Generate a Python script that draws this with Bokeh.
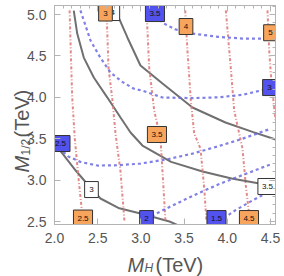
import math
from bokeh.plotting import figure
from bokeh.models import (Range1d, LinearAxis, Label, FixedTicker,
                          ColumnDataSource, NumeralTickFormatter)
from bokeh.core.properties import value
from bokeh.embed import file_html
from bokeh.resources import INLINE

# ---- data ----
# gray solid contours (labels 3, 3.5, 4)
gray_levels = ["3", "3.5", "4"]
gray_x = [
    [2.0, 2.093, 2.25, 2.394, 2.532, 2.75, 2.995, 3.331, 3.42],
    [2.223, 2.263, 2.339, 2.455, 2.61, 2.764, 2.88, 3.018, 3.35, 3.713, 4.05, 4.373, 4.56],
    [2.706, 2.845, 2.995, 3.25, 3.597, 3.979, 4.3, 4.56],
]
gray_y = [
    [3.44, 3.32, 3.11, 2.935, 2.778, 2.66, 2.597, 2.5, 2.46],
    [5.048, 4.77, 4.48, 4.24, 4.0, 3.756, 3.575, 3.418, 3.22, 3.104, 3.02, 2.959, 2.92],
    [5.05, 4.72, 4.384, 4.167, 3.877, 3.696, 3.58, 3.49],
]

# red dash-dot contours (labels 2.5 .. 5)
red_levels = ["2.5", "3", "3.5", "4", "4.5", "5"]
red_x = [
    [2.175, 2.19, 2.205, 2.235, 2.28, 2.33],
    [2.602, 2.625, 2.671, 2.706, 2.764, 2.81],
    [3.065, 3.096, 3.154, 3.227, 3.25, 3.285],
    [3.513, 3.539, 3.578, 3.617, 3.69, 3.733, 3.759],
    [3.983, 4.04, 4.08, 4.176, 4.214, 4.245, 4.265],
    [4.465, 4.485, 4.51, 4.55, 4.6],
]
red_y = [
    [5.05, 4.5, 4.0, 3.5, 3.0, 2.5],
    [5.05, 4.36, 3.96, 3.563, 3.104, 2.5],
    [5.05, 4.36, 3.84, 3.5, 3.104, 2.5],
    [5.05, 4.565, 3.96, 3.563, 3.38, 2.9, 2.5],
    [5.05, 4.36, 3.84, 3.38, 2.938, 2.657, 2.5],
    [5.05, 4.565, 4.2, 3.8, 3.4],
]

# blue dotted contours (labels 1.5 .. 3.5)
blue_levels = ["1.5", "2", "2.5", "3", "3.5"]
blue_x = [
    [3.9, 4.1, 4.3, 4.5],
    [3.0, 3.3, 3.6, 3.9, 4.2, 4.5],
    [2.0, 2.16, 2.3, 2.498, 2.75, 2.995, 3.3, 3.597, 3.9, 4.176, 4.5],
    [2.30, 2.417, 2.53, 2.648, 2.78, 2.914, 3.018, 3.25, 3.597, 3.9, 4.176, 4.5],
    [3.13, 3.25, 3.4, 3.597, 3.9, 4.176, 4.44, 4.56],
]
blue_y = [
    [2.5, 2.64, 2.76, 2.87],
    [2.5, 2.66, 2.81, 2.95, 3.07, 3.19],
    [3.44, 3.285, 3.22, 3.176, 3.18, 3.2, 3.25, 3.32, 3.41, 3.50, 3.62],
    [5.05, 4.686, 4.48, 4.30, 4.19, 4.106, 4.08, 3.998, 3.99, 4.0, 4.03, 4.11],
    [5.05, 4.90, 4.82, 4.77, 4.73, 4.71, 4.71, 4.71],
]

# contour labels: position and text
orange_lab = ["2.5", "3", "3.5", "4", "4.5", "5"]
orange_x = [2.33, 2.59, 3.186, 3.522, 4.251, 4.5]
orange_y = [2.542, 5.018, 3.551, 4.855, 2.536, 4.78]
blue_lab = ["3.5", "3", "2.5", "2", "1.5"]
blue_lx = [3.163, 4.488, 2.069, 3.065, 3.875]
blue_ly = [5.012, 4.118, 3.442, 2.536, 2.536]
white_lab = ["4", "3", "3.5"]
white_x = [2.675, 2.428, 4.465]
white_y = [5.024, 2.886, 2.923]

x_ticks = [2.0, 2.5, 3.0, 3.5, 4.0, 4.5]
y_ticks = [2.5, 3.0, 3.5, 4.0, 4.5, 5.0]

FRAME = "#b4b4b4"
TICKTXT = "#555555"
XR = (2.0, 4.558)
YR = (2.464, 5.109)

# the left border is widened to hold the axis-title pieces; the canvas is shifted back
# left by SHIFT so that the frame sits where it does in the reference
SHIFT = 130

p = figure(width=284 + SHIFT, height=276, output_backend="svg", toolbar_location=None,
           x_range=Range1d(*XR), y_range=Range1d(*YR),
           min_border_left=54 + SHIFT, min_border_right=9, min_border_top=5, min_border_bottom=52,
           x_axis_type=None, y_axis_type=None)
p.styles = {"margin-left": f"-{SHIFT}px"}
p.grid.visible = False
p.outline_line_color = FRAME
p.background_fill_color = "white"
p.border_fill_color = "white"


def base_style(ax):
    ax.axis_line_color = FRAME
    ax.major_tick_line_color = FRAME
    ax.minor_tick_line_color = FRAME
    ax.major_tick_out = 0
    ax.minor_tick_out = 0


for side, ticks in (("below", x_ticks), ("left", y_ticks)):
    ax = LinearAxis(ticker=FixedTicker(ticks=ticks, num_minor_ticks=5),
                    formatter=NumeralTickFormatter(format="0.0"))
    base_style(ax)
    ax.major_tick_in = 6
    ax.minor_tick_in = 3
    ax.major_label_text_font = "Liberation Sans"
    ax.major_label_text_font_size = "14px"
    ax.major_label_text_color = TICKTXT
    ax.major_label_standoff = 8
    p.add_layout(ax, side)

# unlabeled ticks on the top and right frame edges
for side, ticks, rng in (("above", x_ticks, XR), ("right", y_ticks, YR)):
    lo = ticks[0] - 0.5
    minors = [round(lo + 0.1 * i, 2) for i in range(int((rng[1] - lo) / 0.1) + 2)]
    minors = [m for m in minors if rng[0] <= m <= rng[1]]
    for tl, tk in ((6, [m for m in minors if abs(m * 2 - round(m * 2)) < 1e-6]), (3, minors)):
        ax = LinearAxis(ticker=FixedTicker(ticks=[], minor_ticks=tk))
        base_style(ax)
        ax.minor_tick_in = tl
        p.add_layout(ax, side)

# lines
for xs, ys in zip(gray_x, gray_y):
    p.line(xs, ys, line_color="#707070", line_width=2)
for xs, ys in zip(red_x, red_y):
    p.line(xs, ys, line_color="#df7d7d", line_width=2, line_alpha=0.9, line_dash="3 2 1 2")
for xs, ys in zip(blue_x, blue_y):
    p.line(xs, ys, line_color="#6a6ae0", line_width=2.2, line_alpha=0.85, line_dash="3 3")


def boxes(xs, ys, labs, fill):
    w = [11 + 2.7 * len(t) for t in labs]
    src = ColumnDataSource(dict(x=xs, y=ys, t=labs, w=w))
    p.rect("x", "y", width="w", height=16, width_units="screen", height_units="screen",
           source=src, fill_color=fill, line_color="#333333", line_width=1)
    p.text("x", "y", text="t", source=src, text_font=value("Liberation Sans"),
           text_font_size="8px", text_align="center", text_baseline="middle", text_color="#111111")


boxes(white_x, white_y, white_lab, "white")
boxes(blue_lx, blue_ly, blue_lab, "#5252ee")
boxes(orange_x, orange_y, orange_lab, "#f7a55c")

# axis titles as text pieces (italic symbol + subscript), kept in the (widened) left panel
lab_font = "Liberation Sans"
TS = "20px"
SS = "12px"


def piece(x, y, text, size, italic=False, angle=0.0):
    # x, y: page pixels; converted to canvas pixels
    p.add_layout(Label(x=x + SHIFT, y=y, x_units="canvas", y_units="canvas", text=text, angle=angle,
                       text_font=lab_font, text_font_style="italic" if italic else "normal",
                       text_font_size=size, text_color=TICKTXT, text_baseline="alphabetic",
                       text_align="left"), "left")


piece(127, 264, "M", TS, True)
piece(144, 267, "H", SS, True)
piece(155, 264, "(TeV)", TS)

a = math.pi / 2
piece(21, 172, "M", TS, True, a)
piece(25, 155, "1/2", SS, False, a)
piece(21, 137, "(TeV)", TS, False, a)

open("out.html", "w").write(file_html(p, INLINE))
